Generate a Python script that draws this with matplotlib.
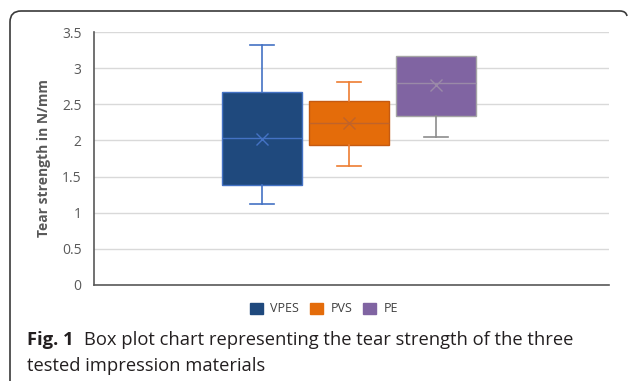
import matplotlib
matplotlib.use("Agg")
import matplotlib.pyplot as plt
from matplotlib.patches import Patch
from matplotlib.path import Path
from matplotlib.patches import PathPatch

materials = ["VPES", "PVS", "PE"]
q1 = [1.39, 1.94, 2.34]
median = [2.04, 2.24, 2.80]
q3 = [2.67, 2.54, 3.17]
whislo = [1.12, 1.65, 2.05]
whishi = [3.32, 2.81, 3.17]
mean = [2.02, 2.24, 2.77]
yticks = [0, 0.5, 1, 1.5, 2, 2.5, 3, 3.5]
ytick_labels = ["0", "0.5", "1", "1.5", "2", "2.5", "3", "3.5"]

face = ["#1f497d", "#e46c0a", "#8064a2"]
edge = ["#4472c4", "#c55a11", "#a5a5a5"]
whisk = ["#4472c4", "#ed7d31", "#8c8c8c"]
medc = ["#4472c4", "#c0632a", "#9a8aa8"]

W, H = 629, 381
fig = plt.figure(figsize=(W / 100, H / 100), dpi=100)
ax = fig.add_axes([94 / W, 1 - 285 / H, (609 - 94) / W, (285 - 32) / H])

for i in range(3):
    st = dict(med=median[i], q1=q1[i], q3=q3[i], whislo=whislo[i],
              whishi=whishi[i], mean=mean[i], label=materials[i])
    res = ax.bxp([st], positions=[i + 1], widths=0.92, showmeans=True,
                 patch_artist=True, showfliers=False,
                 boxprops=dict(facecolor=face[i], edgecolor=edge[i], linewidth=1),
                 whiskerprops=dict(color=whisk[i], linewidth=1.2),
                 capprops=dict(color=whisk[i], linewidth=1.2),
                 capwidths=0.27,
                 medianprops=dict(color=medc[i], linewidth=1),
                 meanprops=dict(marker="x", markeredgecolor=medc[i], markersize=8,
                                markeredgewidth=1))
    if whishi[i] <= q3[i]:
        res["caps"][1].set_visible(False)
    if whislo[i] >= q1[i]:
        res["caps"][0].set_visible(False)

ax.set_xlim(-0.931, 4.989)
ax.set_ylim(0, 3.5)
ax.set_yticks(yticks)
ax.set_yticklabels(ytick_labels, fontfamily="Open Sans", fontsize=10, color="#595959")
ax.set_xticks([])
ax.tick_params(axis="y", length=0, pad=9)
ax.yaxis.grid(True, color="#d9d9d9", linewidth=1)
ax.set_axisbelow(True)
for s in ["top", "right"]:
    ax.spines[s].set_visible(False)
for s in ["left", "bottom"]:
    ax.spines[s].set_color("#595959")
    ax.spines[s].set_linewidth(1.2)
ax.set_ylabel("Tear strength in N/mm", fontfamily="Open Sans", fontweight="bold",
              fontsize=10, color="#595959", labelpad=8)

handles = [Patch(facecolor=face[i], edgecolor=face[i], label=materials[i]) for i in range(3)]
fig.legend(handles=handles, loc="center", bbox_to_anchor=(324 / W, 1 - 309 / H),
           ncol=3, frameon=False, prop=dict(family="Open Sans", size=9),
           handlelength=1.0, handleheight=1.0, handletextpad=0.6, columnspacing=0.9,
           labelcolor="#404040")

# caption
fig.canvas.draw()
r = fig.canvas.get_renderer()
t1 = fig.text(27 / W, 1 - 345 / H, "Fig. 1", fontfamily="Open Sans", fontweight="bold",
              fontsize=13.2, color="#231f20", va="baseline")
bb = t1.get_window_extent(renderer=r)
fig.text((bb.x1 + 10) / W, 1 - 345 / H,
         "Box plot chart representing the tear strength of the three",
         fontfamily="Open Sans", fontsize=13.2, color="#231f20", va="baseline")
fig.text(27 / W, 1 - 371 / H, "tested impression materials",
         fontfamily="Open Sans", fontsize=13.2, color="#231f20", va="baseline")

# border frame (left and top with rounded corners)
def P(x, y):
    return (x / W, 1 - y / H)
verts = [P(10, 381), P(10, 22), P(10, 11), P(21, 11), P(620, 11), P(626, 11), P(627, 16)]
codes = [Path.MOVETO, Path.LINETO, Path.CURVE3, Path.CURVE3, Path.LINETO, Path.CURVE3, Path.CURVE3]
fig.patches.append(PathPatch(Path(verts, codes), transform=fig.transFigure,
                             fill=False, edgecolor="#3a3a3a", linewidth=1.2))

fig.savefig("out.png", dpi=100)
